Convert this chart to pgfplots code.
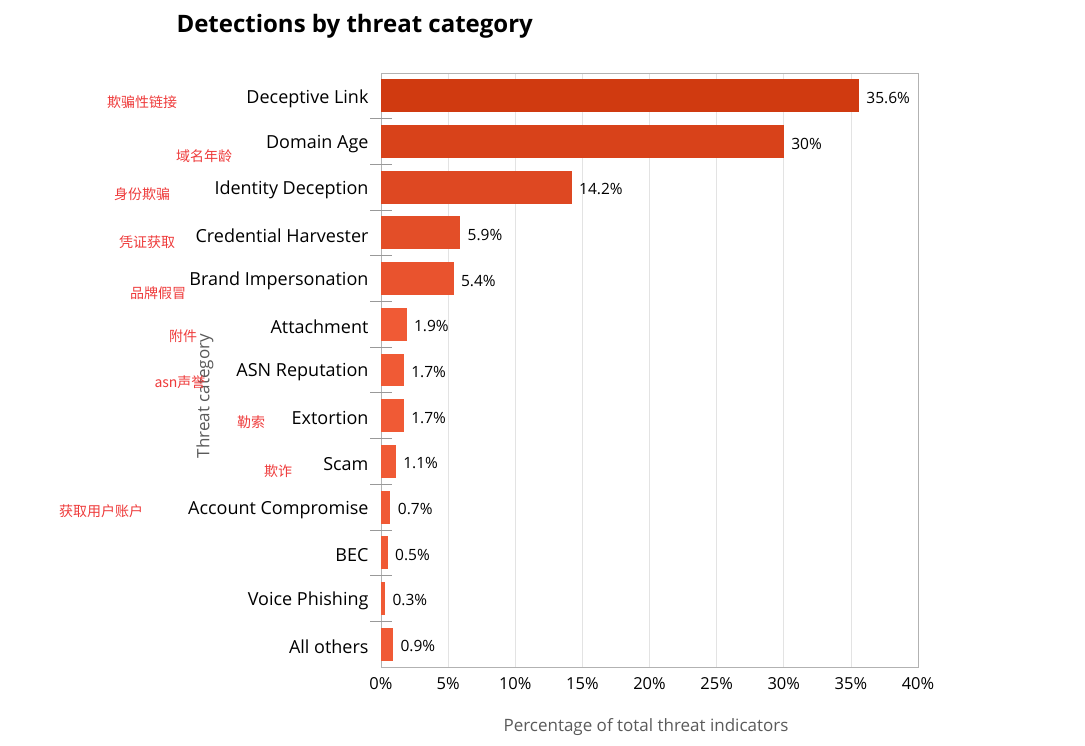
\documentclass[border=0pt]{standalone}
\usepackage{fontspec}
\setmainfont{Open Sans}
\newfontfamily\cjk{Noto Sans CJK SC}
\usepackage{pgfplots}
\pgfplotsset{compat=1.18}
\definecolor{c1}{HTML}{D03A10}
\definecolor{c2}{HTML}{D8421A}
\definecolor{c3}{HTML}{DE4822}
\definecolor{c4}{HTML}{E34E28}
\definecolor{c5}{HTML}{E9532E}
\definecolor{c6}{HTML}{F05A35}
\definecolor{ann}{HTML}{EE3B3B}
\definecolor{lab}{HTML}{5A5A5A}
\begin{document}
\begin{tikzpicture}[x=1bp,y=1bp]
\path[use as bounding box] (0,0) rectangle (1085,746);
\begin{axis}[
  at={(381bp,79bp)}, anchor=south west, scale only axis,
  width=537bp, height=594bp,
  /pgf/number format/assume math mode=true,
  xbar, bar width=0.72, bar shift=0pt,
  xmin=0, xmax=40, ymin=-0.5, ymax=12.5, y dir=reverse,
  ytick={0,...,12},
  yticklabels={Deceptive Link,Domain Age,Identity Deception,Credential Harvester,Brand Impersonation,Attachment,ASN Reputation,Extortion,Scam,Account Compromise,BEC,Voice Phishing,All others},
  ytick pos=left,
  major tick length=0pt,
  extra y ticks={0.5,1.5,...,11.5},
  extra y tick labels={},
  extra y tick style={major tick length=22bp, tick align=center, tick style={draw=gray!80, line width=0.8pt}},
  xtick={0,5,...,40},
  xticklabel={\pgfmathprintnumber{\tick}\%},
  xmajorgrids, grid style={gray!22, line width=0.6pt},
  axis line style={gray!60, line width=0.8pt},
  xticklabel style={font=\fontsize{16.5bp}{19bp}\selectfont, text=black, yshift=-7bp},
  yticklabel style={font=\fontsize{18bp}{21bp}\selectfont, text=black, xshift=-9bp, yshift=-2.5bp},
  nodes near coords={\pgfmathprintnumber{\pgfplotspointmeta}\%},
  nodes near coords style={font=\fontsize{15.5bp}{18bp}\selectfont, text=black, anchor=west, xshift=4bp, yshift=-2bp},
  every axis plot/.append style={draw=none},
]
\addplot[fill=c1] coordinates {(35.6,0)};
\addplot[fill=c2] coordinates {(30,1)};
\addplot[fill=c3] coordinates {(14.2,2)};
\addplot[fill=c4] coordinates {(5.9,3)};
\addplot[fill=c5] coordinates {(5.4,4)};
\addplot[fill=c6] coordinates {(1.9,5)};
\addplot[fill=c6] coordinates {(1.7,6)};
\addplot[fill=c6] coordinates {(1.7,7)};
\addplot[fill=c6] coordinates {(1.1,8)};
\addplot[fill=c6] coordinates {(0.7,9)};
\addplot[fill=c6] coordinates {(0.5,10)};
\addplot[fill=c6] coordinates {(0.3,11)};
\addplot[fill=c6] coordinates {(0.9,12)};
\end{axis}
\node[font=\bfseries\fontsize{24bp}{28bp}\selectfont, anchor=west] at (173,720) {Detections by threat category};
\node[font=\fontsize{17bp}{20bp}\selectfont, text=lab, rotate=90] at (205,350) {Threat category};
\node[font=\fontsize{17bp}{20bp}\selectfont, text=lab] at (646,19) {Percentage of total threat indicators};
\begin{scope}[every node/.style={font=\cjk\fontsize{14bp}{16bp}\selectfont, text=ann}]
\node at (142,644) {欺骗性链接};
\node at (204,590) {域名年龄};
\node at (142,552) {身份欺骗};
\node at (147,504) {凭证获取};
\node at (158,453) {品牌假冒};
\node at (183,410) {附件};
\node at (180,364) {asn声誉};
\node at (251,324) {勒索};
\node at (278,275) {欺诈};
\node at (101,235) {获取用户账户};
\end{scope}
\end{tikzpicture}
\end{document}
